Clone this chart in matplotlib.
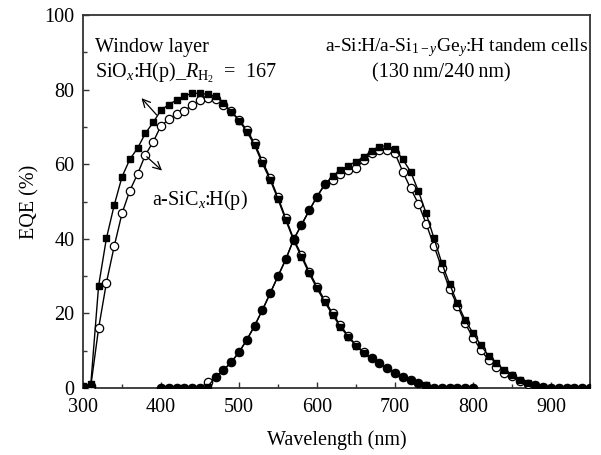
import matplotlib
matplotlib.use("Agg")
import matplotlib.pyplot as plt
from matplotlib.ticker import MultipleLocator
import numpy as np

plt.rcParams['font.family'] = ['Liberation Serif', 'DejaVu Serif']
plt.rcParams['mathtext.fontset'] = 'custom'
plt.rcParams['mathtext.rm'] = 'Liberation Serif'
plt.rcParams['mathtext.it'] = 'Liberation Serif:italic'
plt.rcParams['font.size'] = 14

# top cell (short wavelength), 300-800 nm every 10 nm
wl_top = np.arange(300, 801, 10)
top_siox = [0.5, 1, 27.4, 40.1, 49, 56.6, 61.3, 64.3, 68.3, 71.2,
            74.5, 76, 77.2, 78.3, 79, 79, 78.7, 78.3, 76.3, 74.1,
            71.7, 68.7, 65.1, 60.2, 55.8, 50.6, 45, 39.6, 35.2, 30.7,
            26.7, 23, 19.6, 16.4, 13.7, 11.3, 9.5, 8, 6.6, 5.4,
            4.1, 3, 2.1, 1.4, 0.8, 0, 0, 0, 0, 0, 0]
top_sicx = [0, 0.5, 16, 28.2, 38, 46.8, 52.9, 57.4, 62.5, 66,
            70.3, 72, 73.5, 74.3, 75.9, 77.2, 77.7, 77.5, 76, 74.2,
            71.9, 69.2, 65.6, 60.8, 56.3, 51.1, 45.5, 40, 35.7, 31.2,
            27.2, 23.5, 20, 16.8, 14, 11.5, 9.6, 8, 6.6, 5.4,
            4.1, 3, 2.1, 1.4, 0.6, 0, 0, 0, 0, 0, 0]

# bottom cell (long wavelength), 400-950 nm every 10 nm
wl_bot = np.arange(400, 951, 10)
bot_siox = [0, 0, 0, 0, 0, 0, 0.4, 3, 4.8, 6.9,
            9.6, 12.9, 16.7, 20.9, 25.4, 30, 34.5, 39.8, 43.7, 47.6,
            51.3, 54.6, 56.8, 58.4, 59.6, 60.7, 62, 63.5, 64.7, 65,
            64, 61.3, 58, 52.8, 46.8, 40.1, 33.5, 27.9, 22.7, 18.2,
            14.7, 11.5, 8.6, 6.6, 4.8, 3.5, 2.1, 1.3, 0.8, 0.2,
            0, 0, 0, 0, 0, 0]
bot_sicx = [0, 0, 0, 0, 0, 0, 1.5, 3, 4.8, 6.9,
            9.6, 12.9, 16.7, 20.9, 25.4, 30, 34.5, 39.8, 43.7, 47.6,
            51.3, 54.6, 55.8, 57.4, 58.4, 58.9, 61.1, 62.9, 63.8, 63.8,
            62.9, 58, 53.5, 49.4, 44, 38.1, 32.2, 26.6, 22.1, 17.3,
            13.5, 10.2, 7.5, 5.7, 4.1, 3.2, 2, 1.2, 0.7, 0.2,
            0, 0, 0, 0, 0, 0]

fig = plt.figure(figsize=(6.01, 4.55), dpi=100)
ax = fig.add_axes([83 / 601, 1 - 388 / 455, (590 - 83) / 601, (388 - 15) / 455])

sq = dict(marker='s', color='k', mfc='k', mec='k', ms=5, lw=1.0)
ci = dict(marker='o', color='k', mfc='white', mec='k', ms=6, lw=1.0, mew=0.9)

ax.plot(wl_top, top_sicx, **ci, zorder=3)
ax.plot(wl_top, top_siox, **sq, zorder=4)
ax.plot(wl_bot, bot_sicx, **ci, zorder=3)
ax.plot(wl_bot, bot_siox, **sq, zorder=4)

ax.set_xlim(300, 950)
ax.set_ylim(0, 100)
ax.xaxis.set_major_locator(MultipleLocator(100))
ax.xaxis.set_minor_locator(MultipleLocator(50))
ax.yaxis.set_major_locator(MultipleLocator(20))
ax.yaxis.set_minor_locator(MultipleLocator(10))
ax.tick_params(which='both', direction='in', top=False, right=False,
               width=1.0, color='#333333', labelsize=14.5)
ax.tick_params(which='major', length=4)
ax.tick_params(which='minor', length=3)
ax.tick_params(axis='x', pad=7)
ax.tick_params(axis='y', pad=6)
for s in ax.spines.values():
    s.set_linewidth(1.3)
    s.set_color('#333333')

ax.set_xlabel('Wavelength (nm)', fontsize=14.5, labelpad=10)
ax.set_ylabel('EQE (%)', fontsize=14.5, labelpad=4)

ax.text(316, 91.2, 'Window layer', fontsize=14.5, va='center', ha='left')
ax.text(316, 84.5, r'SiO$_{x}$:H(p)_$R_{\mathrm{H_2}}$  =  167', fontsize=14.5,
        va='center', ha='left')
ax.text(948, 91.2, r'a-Si:H/a-Si$_{1-y}$Ge$_{y}$:H tandem cells', fontsize=14,
        va='center', ha='right')
ax.text(759, 84.5, '(130\u2009nm/240\u2009nm)', fontsize=14.5, va='center', ha='center')
ax.text(450, 50.4, r'a-SiC$_{x}$:H(p)', fontsize=14.5, va='center', ha='center')

ax.annotate('', xy=(375, 77.7), xytext=(394.5, 73.2),
            arrowprops=dict(arrowstyle='->', lw=0.9, color='k',
                            mutation_scale=14, shrinkA=0, shrinkB=0))
ax.annotate('', xy=(401.3, 58.3), xytext=(381.7, 62),
            arrowprops=dict(arrowstyle='->', lw=0.9, color='k',
                            mutation_scale=14, shrinkA=0, shrinkB=0))

fig.savefig('out.png', dpi=100)
